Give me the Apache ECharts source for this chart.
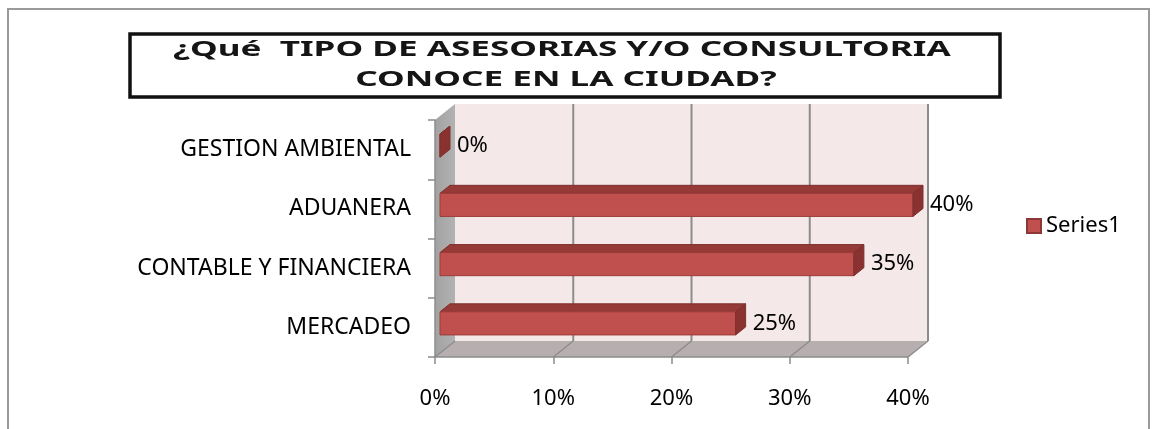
<!DOCTYPE html>
<html lang="es">
<head>
<meta charset="UTF-8">
<title>Asesorias y consultoria</title>
<script src="https://cdn.jsdelivr.net/npm/echarts@6/dist/echarts.min.js"></script>
<style>body{margin:0;background:#fff;}</style>
</head>
<body>
<div id="chart" style="width:1154px;height:429px;"></div>
<script>
// data, bottom to top as in the picture
var categories = ['MERCADEO', 'CONTABLE Y FINANCIERA', 'ADUANERA', 'GESTION AMBIENTAL'];
var values = [0.25, 0.35, 0.40, 0.00];
var xTicks = [0, 0.1, 0.2, 0.3, 0.4];
var seriesName = 'Series1';
var titleLines = ['¿Qué  TIPO DE ASESORIAS Y/O CONSULTORIA', 'CONOCE EN LA CIUDAD?'];

// depth of the fake 3d box (px)
var DX = 20, DY = -16;

function pct(v) { return Math.round(v * 100) + '%'; }

var myChart = echarts.init(document.getElementById('chart'));

// walls + floor of the 3d box, built from the grid rect and the x scale
function renderWalls(params, api) {
    var cs = params.coordSys;
    var x = cs.x, y = cs.y, w = cs.width, h = cs.height;
    var kids = [];
    kids.push({
        type: 'polygon',
        shape: {points: [[x, y], [x + DX, y + DY], [x + DX, y + h + DY], [x, y + h]]},
        style: {
            fill: new echarts.graphic.LinearGradient(0, 0, 1, 0, [
                {offset: 0, color: '#a2a2a2'}, {offset: 1, color: '#b2b2b2'}
            ])
        }
    });
    kids.push({
        type: 'polygon',
        shape: {points: [[x, y + h], [x + DX, y + h + DY], [x + w + DX, y + h + DY], [x + w, y + h]]},
        style: {fill: '#b7afaf'}
    });
    kids.push({
        type: 'rect',
        shape: {x: x + DX, y: y + DY, width: w, height: h},
        style: {fill: '#f4e8e8'}
    });
    for (var i = 0; i < xTicks.length; i++) {
        var px = api.coord([xTicks[i], 0])[0];
        if (i > 0) {
            kids.push({
                type: 'line',
                shape: {x1: px + DX, y1: y + DY, x2: px + DX, y2: y + h + DY},
                style: {stroke: '#8c8c8c', lineWidth: 2}
            });
        }
        kids.push({
            type: 'line',
            shape: {x1: px, y1: y + h, x2: px + DX, y2: y + h + DY},
            style: {stroke: '#8c8c8c', lineWidth: 1.5}
        });
    }
    return {type: 'group', children: kids};
}

// one 3d bar per category
function renderBar(params, api) {
    var v = api.value(0), ci = api.value(1);
    var p0 = api.coord([0, ci]);
    var p1 = api.coord([v, ci]);
    var band = api.size([0, 1])[1];
    var bh = band * 0.39;
    var x0 = p0[0] + 5, x1 = p1[0] + 5;
    var cy = p0[1] - 4;
    var top = cy - bh / 2, bot = cy + bh / 2;
    var ox = 10, oy = -8;
    return {
        type: 'group',
        children: [
            {
                type: 'polygon',
                shape: {points: [[x0, top], [x0 + ox, top + oy], [x1 + ox, top + oy], [x1, top]]},
                style: {fill: '#963a37', stroke: '#7e2f2d', lineWidth: 1}
            },
            {
                type: 'rect',
                shape: {x: x0, y: top, width: x1 - x0, height: bh},
                style: {fill: '#c0504d', stroke: '#9c3c39', lineWidth: 1}
            },
            {
                type: 'polygon',
                shape: {points: [[x1, top], [x1 + ox, top + oy], [x1 + ox, bot + oy], [x1, bot]]},
                style: {fill: '#8a3230', stroke: '#7e2f2d', lineWidth: 1}
            },
            {
                type: 'text',
                style: {
                    x: p1[0] + 22, y: cy, text: pct(v),
                    fill: '#000', font: '22px "Noto Sans"',
                    verticalAlign: 'middle', align: 'left'
                }
            }
        ]
    };
}

var barData = [];
for (var i = 0; i < values.length; i++) {
    barData.push([values[i], i]);
}

var option = {
    animation: false,
    graphic: [
        {
            type: 'rect', z: -10,
            shape: {x: 8, y: 9, width: 1141, height: 440},
            style: {fill: '#fff', stroke: '#9a9a9a', lineWidth: 2}
        },
        {
            type: 'rect', z: -5,
            shape: {x: 130, y: 34, width: 870, height: 63},
            style: {fill: '#fff', stroke: '#111', lineWidth: 3.5}
        },
        {
            // the title in the picture is a stretched image of text
            type: 'text', z: 10,
            x: 562, y: 50, scaleX: 1.67,
            style: {
                text: titleLines[0], fill: '#151515',
                font: 'bold 21px "Noto Sans"',
                align: 'center', verticalAlign: 'middle'
            }
        },
        {
            type: 'text', z: 10,
            x: 566, y: 80, scaleX: 1.67,
            style: {
                text: titleLines[1], fill: '#151515',
                font: 'bold 21px "Noto Sans"',
                align: 'center', verticalAlign: 'middle'
            }
        }
    ],
    legend: {
        data: [{name: seriesName, icon: 'rect'}],
        left: 1021,
        top: 210,
        itemWidth: 14,
        itemHeight: 14,
        itemGap: 6,
        textStyle: {fontFamily: 'Noto Sans', fontSize: 22, color: '#000'}
    },
    grid: {left: 435, right: 246, top: 120, bottom: 72},
    xAxis: {
        type: 'value',
        min: 0,
        max: 0.4,
        interval: 0.1,
        axisLine: {show: true, lineStyle: {color: '#8c8c8c', width: 1.5}},
        axisTick: {show: true, length: 7, lineStyle: {color: '#8c8c8c', width: 1.5}},
        splitLine: {show: false},
        axisLabel: {
            margin: 31,
            formatter: pct,
            fontFamily: 'Noto Sans',
            fontSize: 22,
            color: '#000'
        }
    },
    yAxis: {
        type: 'category',
        data: categories,
        axisLine: {show: true, lineStyle: {color: '#8c8c8c', width: 1.5}},
        axisTick: {show: true, length: 7, lineStyle: {color: '#8c8c8c', width: 1.5}},
        axisLabel: {
            margin: 24,
            fontFamily: 'Noto Sans',
            fontSize: 23,
            color: '#000'
        }
    },
    series: [
        {
            type: 'custom',
            z: -1,
            silent: true,
            renderItem: renderWalls,
            data: [[0, 0]]
        },
        {
            name: seriesName,
            type: 'custom',
            itemStyle: {color: '#c0504d', borderColor: '#8c3836', borderWidth: 1},
            renderItem: renderBar,
            encode: {x: 0, y: 1},
            data: barData
        }
    ]
};
myChart.setOption(option);
</script>
</body>
</html>
